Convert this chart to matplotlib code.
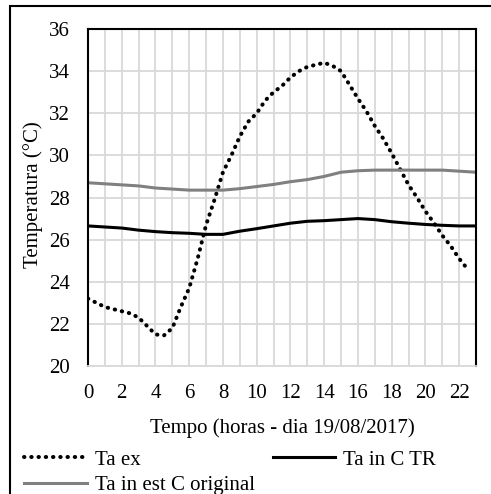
import numpy as np
import matplotlib
matplotlib.use("Agg")
import matplotlib.pyplot as plt
from matplotlib.patches import Rectangle

plt.rcParams['font.family'] = ['Liberation Serif', 'DejaVu Serif']

# Dados (hora do dia, temperatura em °C)
horas_ex = [0, 0.5, 1, 1.5, 2, 2.5, 3, 3.5, 4, 4.5, 5, 5.5, 6, 6.5, 7, 7.5, 8, 8.5,
            9, 9.5, 10, 10.5, 11, 11.5, 12, 12.5, 13, 13.5, 14, 14.5, 15, 15.5, 16,
            16.5, 17, 17.5, 18, 18.5, 19, 19.5, 20, 20.5, 21, 21.5, 22, 22.5]
ta_ex = [23.2, 23.0, 22.8, 22.7, 22.6, 22.5, 22.3, 21.9, 21.5, 21.45, 21.8, 22.8,
         23.7, 25.1, 26.7, 27.9, 29.2, 30.0, 30.9, 31.6, 32.0, 32.6, 33.0, 33.3,
         33.7, 34.0, 34.2, 34.3, 34.4, 34.25, 34.0, 33.35, 32.7, 32.1, 31.4, 30.8,
         30.1, 29.35, 28.6, 28.0, 27.35, 26.8, 26.2, 25.7, 25.1, 24.6]

horas = list(range(24))
ta_in_c_tr = [26.65, 26.6, 26.55, 26.45, 26.38, 26.33, 26.3, 26.25, 26.25, 26.4,
              26.52, 26.65, 26.78, 26.87, 26.9, 26.95, 27.0, 26.95, 26.85, 26.78,
              26.72, 26.68, 26.65, 26.65]
ta_in_est_c_original = [28.7, 28.65, 28.6, 28.55, 28.45, 28.4, 28.35, 28.35, 28.35,
                        28.42, 28.52, 28.62, 28.75, 28.85, 29.0, 29.2, 29.27, 29.3,
                        29.3, 29.3, 29.3, 29.3, 29.25, 29.2]

fs = 15

fig = plt.figure(figsize=(4.91, 4.94), dpi=100)
ax = fig.add_axes([88 / 491, 1 - 366 / 494, 388 / 491, 337 / 494])

l_ex, = ax.plot(horas_ex, ta_ex, color='black', lw=2.9, linestyle=(0, (0.1, 1.7)),
                dash_capstyle='round', solid_capstyle='round', label='Ta ex')
l_tr, = ax.plot(horas, ta_in_c_tr, color='black', lw=2.2, label='Ta in C TR')
l_or, = ax.plot(horas, ta_in_est_c_original, color='#808080', lw=2.2,
                label='Ta in est C original')

ax.set_xlim(0, 23)
ax.set_ylim(20, 36)
ax.set_xticks(range(24))
ax.set_xticklabels([str(h) if h % 2 == 0 else '' for h in range(24)])
ax.set_yticks(range(20, 37, 2))
ax.grid(True, color='#d9d9d9', lw=1.3)
ax.set_axisbelow(True)
ax.tick_params(length=0, labelsize=fs)
ax.tick_params(axis='x', pad=13)
ax.tick_params(axis='y', pad=13)

for s in ['left', 'right', 'top']:
    ax.spines[s].set_color('black')
    ax.spines[s].set_linewidth(1.5)
ax.spines['bottom'].set_color('#d9d9d9')
ax.spines['bottom'].set_linewidth(1.3)

ax.set_xlabel('Tempo (horas - dia 19/08/2017)', fontsize=fs, labelpad=11)
ax.set_ylabel('Temperatura (°C)', fontsize=fs)
ax.yaxis.set_label_coords(-0.115, 0.51)

fig.legend(handles=[l_ex, l_or, l_tr], ncol=2, loc='upper left',
           bbox_to_anchor=(24 / 491, 1 - 450 / 494), frameon=False, fontsize=fs,
           handlelength=3.0, handletextpad=0.4, columnspacing=0.85,
           labelspacing=0.3, borderaxespad=0, borderpad=0)

# moldura externa
fig.patches.append(Rectangle((10 / 491, -0.1), 1.2, 1.1 - 6 / 494,
                             transform=fig.transFigure, fill=False,
                             edgecolor='black', lw=1.5))

fig.savefig('out.png', dpi=100)
